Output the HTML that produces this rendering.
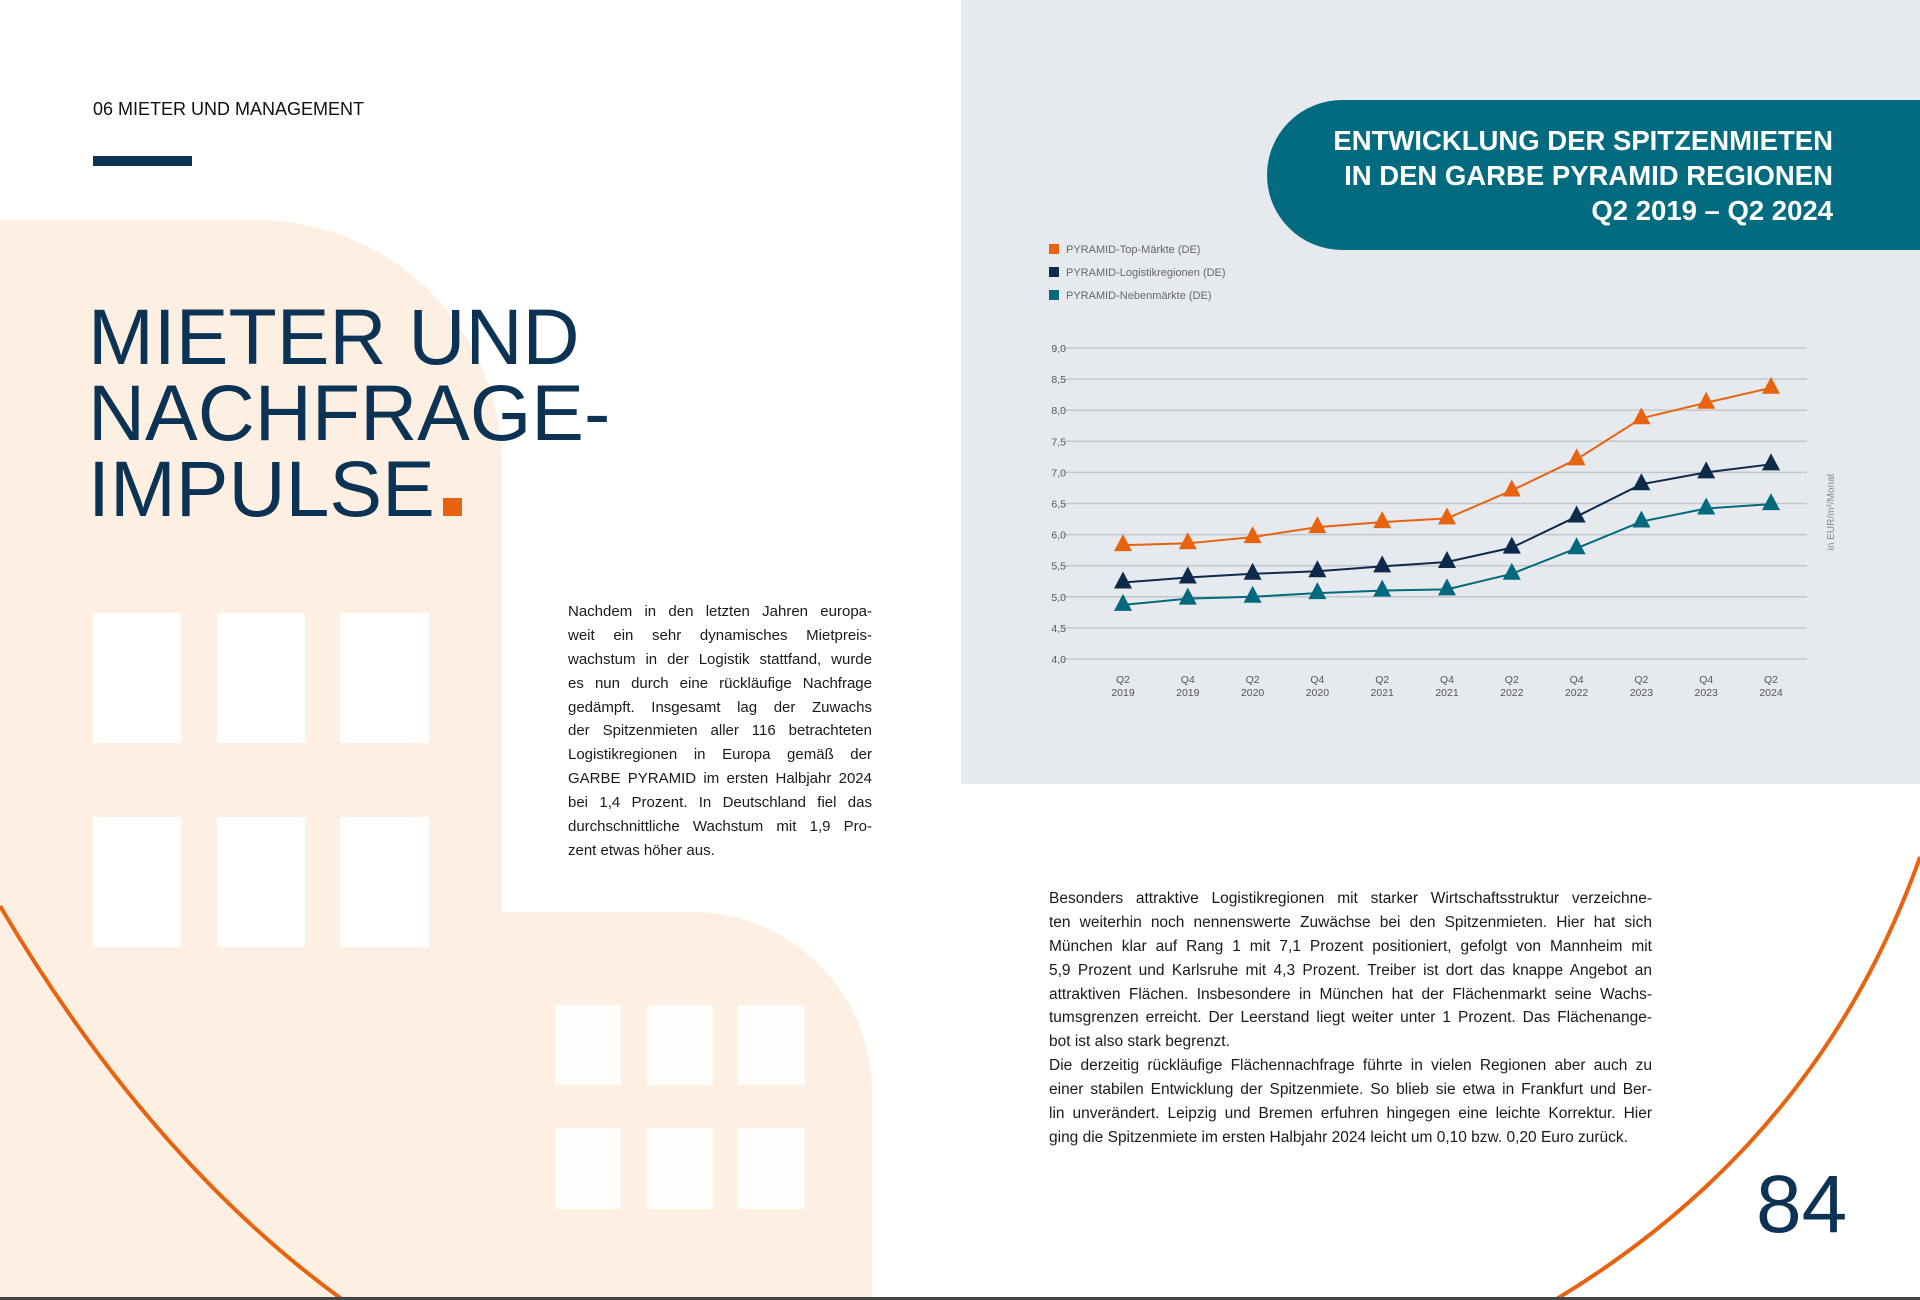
<!DOCTYPE html>
<html><head><meta charset="utf-8">
<style>
*{margin:0;padding:0;box-sizing:border-box}
body{width:1920px;height:1300px;position:relative;overflow:hidden;background:#fff;font-family:"Liberation Sans",sans-serif;color:#1a1a1a}
.abs{position:absolute}
.beige{background:#fdf0e3}
.win{position:absolute;background:#fff}
.para div{text-align:justify;text-align-last:justify;white-space:nowrap;height:23.9px;line-height:23.9px}
.para div.l{text-align-last:left}
</style></head><body>
<div class="abs beige" style="left:0;top:220px;width:502px;height:1080px;border-top-right-radius:245px"></div>
<div class="abs beige" style="left:502px;top:912px;width:370px;height:388px;border-top-right-radius:180px"></div>
<div class="win" style="left:93px;top:613px;width:88px;height:130px"></div>
<div class="win" style="left:217px;top:613px;width:88px;height:130px"></div>
<div class="win" style="left:340px;top:613px;width:89px;height:130px"></div>
<div class="win" style="left:93px;top:817px;width:88px;height:130px"></div>
<div class="win" style="left:217px;top:817px;width:88px;height:130px"></div>
<div class="win" style="left:340px;top:817px;width:89px;height:130px"></div>
<div class="win" style="left:555px;top:1005px;width:66px;height:80px;opacity:.85"></div>
<div class="win" style="left:647px;top:1005px;width:66px;height:80px;opacity:.85"></div>
<div class="win" style="left:738px;top:1005px;width:67px;height:80px;opacity:.85"></div>
<div class="win" style="left:555px;top:1128px;width:66px;height:81px;opacity:.85"></div>
<div class="win" style="left:647px;top:1128px;width:66px;height:81px;opacity:.85"></div>
<div class="win" style="left:738px;top:1128px;width:67px;height:81px;opacity:.85"></div>

<div class="abs" style="left:961px;top:0;width:959px;height:784px;background:#e6eaee"></div>

<svg class="abs" style="left:0;top:0" width="1920" height="1300">
<path d="M0,906 Q150,1160 343,1300" fill="none" stroke="#e8630f" stroke-width="4"/>
<path d="M1920,857 Q1820,1140 1555,1300" fill="none" stroke="#e8630f" stroke-width="4"/>
<rect x="0" y="1297" width="1920" height="3" fill="#444"/>
</svg>

<div class="abs" style="left:93px;top:99px;font-size:18px;color:#111">06 MIETER UND MANAGEMENT</div>
<div class="abs" style="left:93px;top:156px;width:99px;height:10px;background:#0d3354"></div>

<div class="abs" style="left:88px;top:299px;font-size:79px;line-height:76px;color:#0d3354">MIETER UND<br>NACHFRAGE-<br>IMPULSE<span style="display:inline-block;width:19px;height:18px;background:#e8630f;margin-left:8px"></span></div>

<div class="abs para" style="left:568px;top:600px;width:304px;font-size:15px">
<div>Nachdem in den letzten Jahren europa-</div>
<div>weit ein sehr dynamisches Mietpreis-</div>
<div>wachstum in der Logistik stattfand, wurde</div>
<div>es nun durch eine rückläufige Nachfrage</div>
<div>gedämpft. Insgesamt lag der Zuwachs</div>
<div>der Spitzenmieten aller 116 betrachteten</div>
<div>Logistikregionen in Europa gemäß der</div>
<div>GARBE PYRAMID im ersten Halbjahr 2024</div>
<div>bei 1,4 Prozent. In Deutschland fiel das</div>
<div>durchschnittliche Wachstum mit 1,9 Pro-</div>
<div class="l">zent etwas höher aus.</div>
</div>

<div class="abs para" style="left:1049px;top:887px;width:603px;font-size:15.5px">
<div>Besonders attraktive Logistikregionen mit starker Wirtschaftsstruktur verzeichne-</div>
<div>ten weiterhin noch nennenswerte Zuwächse bei den Spitzenmieten. Hier hat sich</div>
<div>München klar auf Rang 1 mit 7,1 Prozent positioniert, gefolgt von Mannheim mit</div>
<div>5,9 Prozent und Karlsruhe mit 4,3 Prozent. Treiber ist dort das knappe Angebot an</div>
<div>attraktiven Flächen. Insbesondere in München hat der Flächenmarkt seine Wachs-</div>
<div>tumsgrenzen erreicht. Der Leerstand liegt weiter unter 1 Prozent. Das Flächenange-</div>
<div class="l">bot ist also stark begrenzt.</div>
<div>Die derzeitig rückläufige Flächennachfrage führte in vielen Regionen aber auch zu</div>
<div>einer stabilen Entwicklung der Spitzenmiete. So blieb sie etwa in Frankfurt und Ber-</div>
<div>lin unverändert. Leipzig und Bremen erfuhren hingegen eine leichte Korrektur. Hier</div>
<div class="l">ging die Spitzenmiete im ersten Halbjahr 2024 leicht um 0,10 bzw. 0,20 Euro zurück.</div>
</div>

<div class="abs" style="left:1756px;top:1155px;font-size:82px;color:#0d3354;line-height:100px">84</div>

<div class="abs" style="left:1267px;top:100px;width:653px;height:150px;background:#036b80;border-radius:75px 0 0 75px"></div>
<div class="abs" style="right:87px;top:123px;text-align:right;color:#fff;font-weight:bold;font-size:27.5px;line-height:35px">ENTWICKLUNG DER SPITZENMIETEN<br>IN DEN GARBE PYRAMID REGIONEN<br>Q2 2019 – Q2 2024</div>

<svg class="abs" id="chart" style="left:0;top:0" width="1920" height="800"></svg>

<script>
const categories=["Q2 2019","Q4 2019","Q2 2020","Q4 2020","Q2 2021","Q4 2021","Q2 2022","Q4 2022","Q2 2023","Q4 2023","Q2 2024"];
const seriesNames=["PYRAMID-Top-Märkte (DE)","PYRAMID-Logistikregionen (DE)","PYRAMID-Nebenmärkte (DE)"];
const topMaerkte=[5.83,5.86,5.96,6.12,6.20,6.26,6.71,7.21,7.87,8.12,8.36];
const logistikregionen=[5.23,5.31,5.37,5.41,5.49,5.56,5.79,6.29,6.81,7.00,7.13];
const nebenmaerkte=[4.87,4.97,5.00,5.06,5.10,5.12,5.37,5.78,6.21,6.42,6.49];
const yTicks=[4.0,4.5,5.0,5.5,6.0,6.5,7.0,7.5,8.0,8.5,9.0];
const yTickLabels=["4,0","4,5","5,0","5,5","6,0","6,5","7,0","7,5","8,0","8,5","9,0"];

const svg=document.getElementById('chart');
const NS='http://www.w3.org/2000/svg';
const colors=["#e8630f","#0d2a4a","#04697d"];
const X0=1123,X1=1771,Y0=659,Y1=348,GX0=1063,GX1=1807;
function xs(i){return X0+(X1-X0)*i/(categories.length-1);}
function ys(v){return Y0-(v-4)/(9-4)*(Y0-Y1);}
function mk(tag,attrs){const e=document.createElementNS(NS,tag);for(const k in attrs)e.setAttribute(k,attrs[k]);svg.appendChild(e);return e;}

yTicks.forEach((t,i)=>{
  const g=mk('line',{x1:GX0,x2:GX1,y1:ys(t),y2:ys(t),stroke:'#c3c7cb','stroke-width':1.5});
  
  
  const l=mk('text',{x:1066,y:ys(t)+4,'text-anchor':'end','font-size':10.5,fill:'#555','font-family':'Liberation Sans, sans-serif'});
  l.textContent=yTickLabels[i];
  
  
});
categories.forEach((c,i)=>{
  const p=c.split(' ');
  const t1=mk('text',{x:xs(i),y:683,'text-anchor':'middle','font-size':10.5,fill:'#555','font-family':'Liberation Sans, sans-serif'});
  t1.textContent=p[0];
  
  
  const t2=mk('text',{x:xs(i),y:696,'text-anchor':'middle','font-size':10.5,fill:'#555','font-family':'Liberation Sans, sans-serif'});
  t2.textContent=p[1];
  
  
});
const unit=mk('text',{x:0,y:0,transform:'translate(1834,512) rotate(-90)','text-anchor':'middle','font-size':10,fill:'#888','font-family':'Liberation Sans, sans-serif'});
unit.textContent='in EUR/m²/Monat';



[topMaerkte,logistikregionen,nebenmaerkte].forEach((arr,s)=>{
  const pl=mk('polyline',{points:arr.map((v,i)=>xs(i)+','+ys(v)).join(' '),fill:'none',stroke:colors[s],'stroke-width':2});
  
  
  arr.forEach((v,i)=>{
    const x=xs(i),y=ys(v);
    const tr=mk('polygon',{points:`${x},${y-11} ${x-9},${y+6} ${x+9},${y+6}`,fill:colors[s]});
    
    
  });
  const ly=249+s*23;
  const sq=mk('rect',{x:1049,y:ly-5,width:10,height:10,fill:colors[s]});
  
  
  const lt=mk('text',{x:1066,y:ly+4,'font-size':11,fill:'#666','font-family':'Liberation Sans, sans-serif'});
  lt.textContent=seriesNames[s];
  
  
});
</script>
</body></html>
